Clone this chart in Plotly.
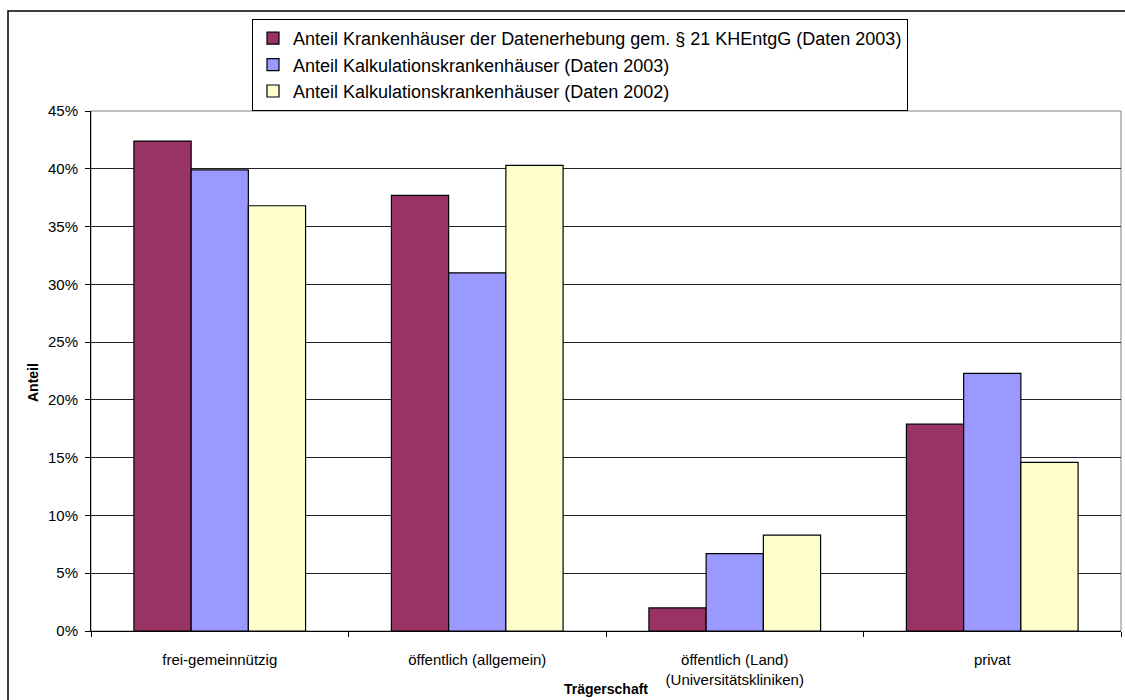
import plotly.graph_objects as go

categories = ["frei-gemeinnützig", "öffentlich (allgemein)",
              "öffentlich (Land)<br>(Universitätskliniken)", "privat"]
series_names = ["Anteil Krankenhäuser der Datenerhebung gem. § 21 KHEntgG (Daten 2003)",
                "Anteil Kalkulationskrankenhäuser (Daten 2003)",
                "Anteil Kalkulationskrankenhäuser (Daten 2002)"]
datenerhebung_2003 = [0.424, 0.377, 0.020, 0.179]
kalkulation_2003 = [0.399, 0.310, 0.067, 0.223]
kalkulation_2002 = [0.368, 0.403, 0.083, 0.146]
colors = ["#993366", "#9999FF", "#FFFFCC"]
y_ticks = [0, 0.05, 0.10, 0.15, 0.20, 0.25, 0.30, 0.35, 0.40, 0.45]

FONT = "Liberation Sans, Arial, sans-serif"

fig = go.Figure()
for name, vals, col in zip(series_names,
                           [datenerhebung_2003, kalkulation_2003, kalkulation_2002],
                           colors):
    fig.add_trace(go.Bar(x=categories, y=vals, name=name,
                         marker=dict(color=col, line=dict(color="black", width=1.2))))

W, H = 1125, 700
L, R, T, B = 91, 4, 111, 69
pw, ph = W - L - R, H - T - B

def px_x(p):
    return (p - L) / pw

def px_y(p):
    return (H - B - p) / ph

fig.update_layout(
    width=W, height=H,
    margin=dict(l=L, r=R, t=T, b=B, autoexpand=False),
    paper_bgcolor="white", plot_bgcolor="white",
    barmode="group", bargap=1/3, bargroupgap=0,
    font=dict(family=FONT, color="black", size=15),
    showlegend=True,
    legend=dict(x=px_x(252), y=px_y(19), xanchor="left", yanchor="top",
                bordercolor="black", borderwidth=1, bgcolor="white",
                font=dict(size=18, family=FONT), tracegroupgap=0,
                itemwidth=30),
    xaxis=dict(showline=True, linecolor="black", linewidth=1,
               ticks="outside", ticklen=5, tickcolor="black",
               tickson="boundaries", showgrid=False,
               tickfont=dict(size=15), ticklabelstandoff=15,
               automargin=False),
    yaxis=dict(range=[0, 0.45], tickvals=y_ticks, tickformat=".0%",
               showline=True, linecolor="black", linewidth=1,
               ticks="outside", ticklen=5, tickcolor="black",
               showgrid=True, gridcolor="#222222", gridwidth=1,
               tickfont=dict(size=15), ticklabelstandoff=4,
               zeroline=False, automargin=False),
    shapes=[
        dict(type="rect", xref="paper", yref="paper", x0=0, x1=1, y0=0, y1=1,
             line=dict(color="#808080", width=1), layer="below"),
        dict(type="rect", xref="paper", yref="paper",
             x0=px_x(8), x1=px_x(1140), y0=px_y(720), y1=px_y(11),
             line=dict(color="black", width=1.5)),
    ],
    annotations=[
        dict(text="<b>Trägerschaft</b>", xref="paper", yref="paper",
             x=0.5, y=px_y(689), xanchor="center", yanchor="middle",
             showarrow=False, font=dict(size=14)),
        dict(text="<b>Anteil</b>", xref="paper", yref="paper",
             x=px_x(33), y=px_y(383), xanchor="center", yanchor="middle",
             textangle=-90, showarrow=False, font=dict(size=14)),
    ],
)

fig.write_html("out.html")
